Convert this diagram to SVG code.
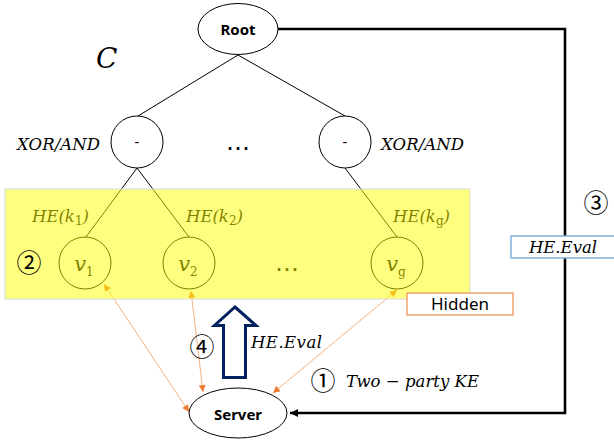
<svg xmlns="http://www.w3.org/2000/svg" width="614" height="441" viewBox="0 0 614 441">
<style>
.ln{stroke:#000;stroke-width:1;fill:none}
.nd{fill:#fff;stroke:#000;stroke-width:1}
.math{font-family:"DejaVu Serif",serif;font-style:italic;font-size:16.5px;fill:#000}
.sub{font-family:"DejaVu Serif",serif;font-style:normal;font-size:12px}
.lbl{font-family:"Noto Sans","Liberation Sans",sans-serif;font-size:15px;font-weight:bold;fill:#000;text-anchor:middle}
.num{font-family:"Noto Sans CJK KR","DejaVu Sans",sans-serif;font-size:25px;fill:#000;text-anchor:middle}
.dots{font-family:"DejaVu Sans",sans-serif;font-size:24px;fill:#000;text-anchor:middle}
.oa{stroke:#F4B183;stroke-width:1;fill:none;marker-start:url(#oh);marker-end:url(#oh)}
</style>
<defs>
<marker id="oh" viewBox="0 0 10 10" refX="10" refY="5" markerWidth="8" markerHeight="7" markerUnits="userSpaceOnUse" orient="auto-start-reverse"><path d="M0,0 L10,5 L0,10 z" fill="#ED7D31"/></marker>
<marker id="bh" viewBox="0 0 10 10" refX="10" refY="5" markerWidth="10" markerHeight="8" markerUnits="userSpaceOnUse" orient="auto"><path d="M0,0 L10,5 L0,10 z" fill="#000"/></marker>
</defs>
<g id="connectors">
<line class="ln" x1="238" y1="55" x2="138" y2="116"/>
<line class="ln" x1="238" y1="55" x2="345" y2="116"/>
<line class="ln" x1="137" y1="168" x2="86" y2="237"/>
<line class="ln" x1="137" y1="168" x2="189" y2="237"/>
<line class="ln" x1="345" y1="168" x2="397" y2="237"/>
<line class="oa" x1="104" y1="284" x2="189" y2="412"/>
<line class="oa" x1="191" y1="291" x2="203" y2="392"/>
<line class="oa" x1="397" y1="290" x2="273" y2="393"/>
<path d="M277,29 H565 V413 H290" stroke="#000" stroke-width="2.6" fill="none" marker-end="url(#bh)"/>
</g>
<g id="root"><ellipse class="nd" cx="238" cy="29" rx="40" ry="25.5"/><text class="lbl" x="238" y="35">Root</text></g>
<g id="gate-left"><circle class="nd" cx="137" cy="142" r="26"/><text class="lbl" style="font-weight:normal" x="137" y="147">-</text></g>
<g id="gate-right"><circle class="nd" cx="345" cy="142" r="26"/><text class="lbl" style="font-weight:normal" x="345" y="147">-</text></g>
<text class="dots" x="238" y="150">…</text>
<text class="math" x="17" y="150" textLength="83">XOR/AND</text>
<text class="math" x="381" y="150" textLength="83">XOR/AND</text>
<text class="math" x="96" y="68" style="font-size:28px">C</text>
<g id="v1"><circle class="nd" cx="85" cy="263" r="26"/><text class="math" x="84" y="271" text-anchor="middle" style="font-size:21px">v<tspan class="sub" dy="5">1</tspan></text></g>
<g id="v2"><circle class="nd" cx="189" cy="263" r="26"/><text class="math" x="188" y="271" text-anchor="middle" style="font-size:21px">v<tspan class="sub" dy="5">2</tspan></text></g>
<g id="vg"><circle class="nd" cx="397" cy="263" r="26"/><text class="math" x="396" y="271" text-anchor="middle" style="font-size:21px">v<tspan class="sub" dy="5">g</tspan></text></g>
<text class="dots" x="287" y="271">…</text>
<text class="math" x="32" y="222">HE(k<tspan class="sub" dy="3">1</tspan><tspan dy="-3">)</tspan></text>
<text class="math" x="186" y="222">HE(k<tspan class="sub" dy="3">2</tspan><tspan dy="-3">)</tspan></text>
<text class="math" x="393" y="222">HE(k<tspan class="sub" dy="3">g</tspan><tspan dy="-3">)</tspan></text>
<rect id="hidden-region" x="5" y="189" width="465" height="110" fill="#FFFF00" fill-opacity="0.5" stroke="#d9d9d9" stroke-width="1"/>
<text class="num" x="29" y="272">②</text>
<g id="hidden-box"><rect x="407" y="293" width="106" height="22" fill="#fff" stroke="#F2A46E" stroke-width="1.5"/><text x="460" y="310" text-anchor="middle" style="font-family:'Noto Sans','Liberation Sans',sans-serif;font-size:17px">Hidden</text></g>
<g id="heeval-box"><rect x="511" y="236" width="110" height="22" fill="#fff" stroke="#7FAEDC" stroke-width="1.5"/><text class="math" x="563" y="253" text-anchor="middle">HE.Eval</text></g>
<text class="num" x="596" y="212">③</text>
<g id="big-arrow"><path d="M235,307 L256,325.5 L245.5,325.5 L245.5,377.5 L223.5,377.5 L223.5,325.5 L214.5,325.5 Z" fill="#fff" stroke="#002060" stroke-width="3" stroke-linejoin="miter"/></g>
<text class="num" x="202" y="356">④</text>
<text class="math" x="251" y="348" textLength="71">HE.Eval</text>
<text class="num" x="323" y="390">①</text>
<text class="math" x="346" y="387" textLength="133">Two − party KE</text>
<g id="server"><ellipse class="nd" cx="238" cy="413" rx="49" ry="25"/><text class="lbl" x="238" y="420">Server</text></g>
</svg>
